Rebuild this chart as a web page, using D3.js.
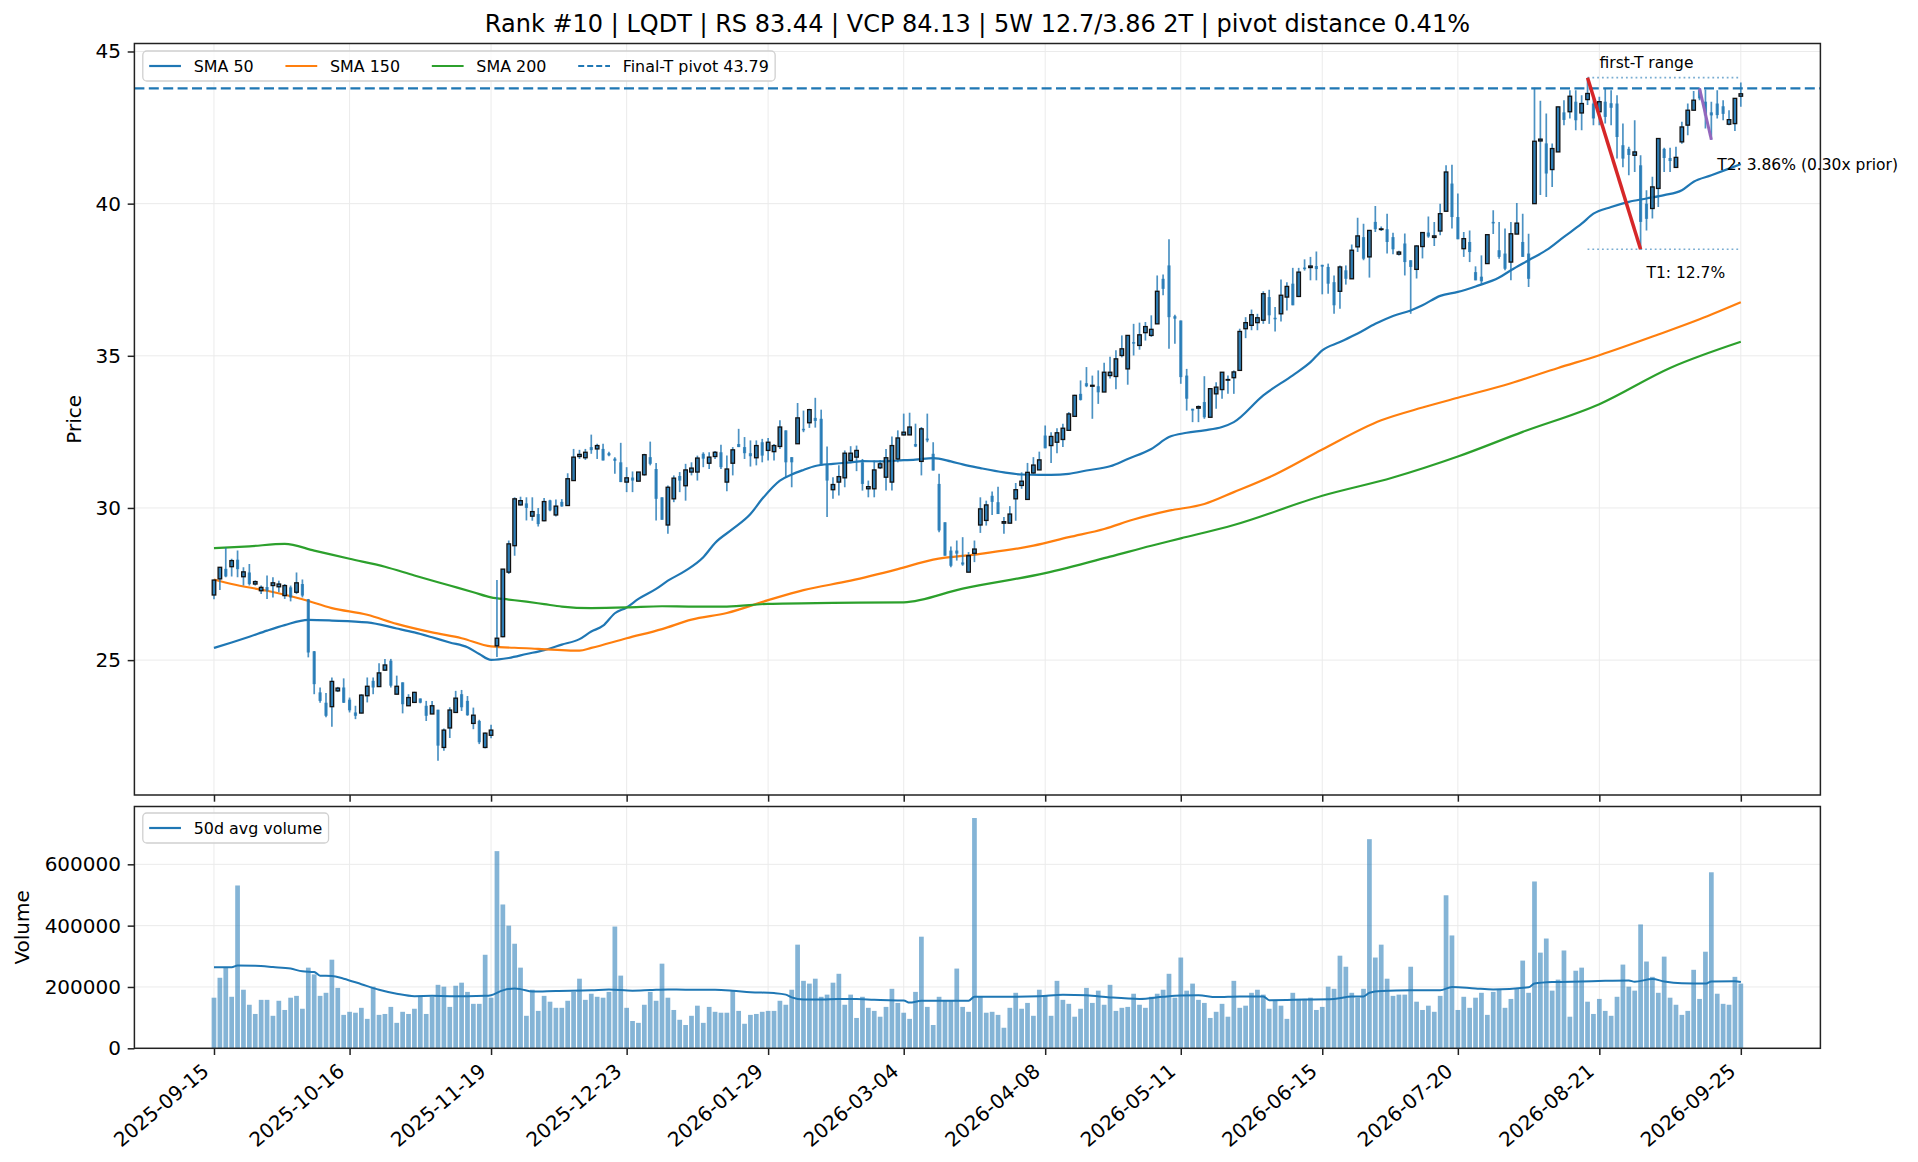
<!DOCTYPE html>
<html>
<head>
<meta charset="utf-8">
<script src="https://cdn.jsdelivr.net/npm/d3@7"></script>
<style>
  body { margin: 0; background: #fff; }
  text { font-family: "DejaVu Sans", sans-serif; fill: #000; }
</style>
</head>
<body>
<div id="chart"></div>
<script>
// x axis: trading-day index, labelled at a few dates
const tickIdx = [0, 23, 47, 70, 94, 117, 141, 164, 188, 211, 235, 259];
const tickLabels = ["2025-09-15", "2025-10-16", "2025-11-19", "2025-12-23", "2026-01-29", "2026-03-04",
  "2026-04-08", "2026-05-11", "2026-06-15", "2026-07-20", "2026-08-21", "2026-09-25"];

const open = [
  27.14,27.67,28.00,28.07,28.30,27.74,27.88,27.50,27.28,27.40,
  27.45,27.41,27.12,27.39,27.23,27.50,27.00,25.29,23.94,23.60,
  23.47,23.99,24.10,23.70,23.28,23.26,23.83,24.32,24.13,24.67,
  24.98,23.88,24.27,23.50,23.61,23.74,23.50,23.23,23.37,22.13,
  22.77,23.28,23.88,23.66,22.92,23.00,22.13,22.53,25.47,25.77,
  27.89,28.76,30.10,30.15,29.73,29.80,29.58,30.25,29.77,30.20,
  30.08,30.90,31.69,31.65,32.00,31.94,31.94,31.80,31.62,31.50,
  30.85,31.00,30.88,31.09,31.67,31.28,30.35,29.44,30.30,31.05,
  30.73,31.18,31.18,31.78,31.47,31.69,31.83,30.85,31.47,32.10,
  32.00,31.80,31.65,32.16,31.89,31.85,32.02,32.55,31.67,32.11,
  32.60,32.80,32.96,32.93,31.45,30.60,30.85,30.99,31.56,31.67,
  31.50,30.63,30.63,31.32,31.01,30.85,31.61,32.40,32.40,32.10,
  31.53,32.28,31.78,30.79,29.53,28.60,28.60,28.21,27.89,28.51,
  29.44,29.59,30.40,30.19,29.50,29.50,30.30,30.74,30.28,31.15,
  31.25,32.38,32.05,32.16,32.25,32.55,33.01,33.75,34.10,34.00,
  34.00,33.81,34.35,34.32,35.01,34.57,35.45,35.34,35.76,35.67,
  36.05,37.53,37.97,36.30,36.16,34.35,33.26,33.28,33.48,32.98,
  33.75,33.89,34.20,34.28,34.52,35.89,36.00,36.09,36.17,36.93,
  36.25,36.38,36.93,37.37,36.95,37.90,37.90,37.95,37.99,37.92,
  37.42,37.12,37.81,37.53,38.58,38.90,38.25,39.40,39.15,39.16,
  38.90,38.34,38.69,38.14,37.84,38.59,39.05,38.89,39.10,39.75,
  40.66,39.56,38.52,38.74,37.75,37.60,38.03,39.40,38.47,38.36,
  38.08,39.00,38.74,38.36,40.00,42.06,41.98,41.12,41.70,43.00,
  43.02,43.35,42.98,43.42,43.29,43.02,43.35,43.30,43.29,41.92,
  41.80,41.59,41.26,40.00,39.84,40.50,41.80,41.50,41.19,42.03,
  42.58,43.07,43.73,43.35,43.00,43.29,43.20,42.61,42.63,43.53];

const high = [
  27.65,28.05,28.69,28.33,28.60,28.05,28.16,27.62,27.45,27.78,
  27.72,27.61,27.50,27.45,27.88,27.65,27.01,25.30,24.10,23.92,
  24.43,24.12,24.40,23.77,23.50,23.88,24.43,24.43,24.90,25.04,
  25.04,24.49,24.27,23.88,23.96,23.74,23.66,23.66,23.37,22.75,
  23.45,23.99,24.02,23.82,23.44,23.04,22.62,22.88,27.63,27.99,
  28.93,30.35,30.37,30.35,30.35,30.00,30.33,30.27,30.28,30.29,
  31.14,31.94,31.91,31.94,32.41,32.11,32.11,31.85,31.67,32.14,
  31.34,31.20,31.18,31.78,32.18,31.48,30.35,30.74,31.07,31.18,
  31.45,31.50,31.72,31.83,31.83,31.87,32.08,31.72,32.00,32.60,
  32.33,32.22,32.22,32.27,32.30,32.10,32.88,32.55,31.67,33.45,
  33.20,33.26,33.62,33.23,32.02,31.01,31.40,31.89,32.03,32.05,
  31.61,30.90,31.56,31.58,31.94,32.35,32.55,33.10,33.13,32.77,
  32.66,33.10,32.16,31.12,29.53,28.73,28.93,29.04,28.55,28.93,
  30.35,30.24,30.54,30.70,29.70,30.06,30.82,31.17,31.48,31.67,
  31.85,32.71,32.49,32.62,32.77,33.15,33.72,34.19,34.63,34.35,
  34.52,34.77,34.97,35.18,35.67,35.67,36.05,36.09,36.11,36.33,
  37.64,37.67,38.83,36.35,36.16,34.57,33.26,33.37,34.33,33.92,
  34.13,34.46,34.35,34.52,35.89,36.27,36.52,36.38,37.12,37.17,
  36.60,37.51,37.42,37.89,37.89,38.17,38.25,38.43,37.99,38.03,
  37.64,37.97,37.97,38.66,39.54,39.34,39.12,39.92,39.25,39.67,
  39.04,38.45,39.02,38.14,38.63,39.05,39.58,39.40,40.00,41.26,
  41.28,40.33,39.07,39.12,37.94,38.30,38.98,39.78,39.40,39.18,
  39.40,40.02,39.67,39.01,43.81,43.38,42.96,41.98,43.18,43.40,
  43.73,43.73,43.56,44.14,43.51,43.51,43.78,43.73,43.56,42.63,
  41.87,42.74,41.59,40.44,40.88,42.14,41.84,41.84,41.87,42.69,
  43.29,43.70,43.79,43.75,43.35,43.73,43.40,43.07,43.46,43.98];

const low = [
  27.00,27.30,27.72,27.75,27.72,27.45,27.45,27.45,27.17,27.01,
  27.06,27.23,27.01,26.93,27.17,27.06,25.09,23.88,23.60,23.12,
  22.81,23.95,23.59,23.28,23.06,23.25,23.61,23.88,24.13,24.65,
  24.10,23.88,23.25,23.50,23.61,23.58,23.00,23.23,21.69,22.02,
  22.44,23.28,23.33,23.17,22.73,22.24,22.10,22.43,25.10,25.75,
  27.83,28.43,30.08,29.59,29.58,29.39,29.56,29.89,29.72,30.04,
  30.08,30.90,31.61,31.58,31.78,31.61,31.56,31.70,31.12,30.85,
  30.52,30.52,30.88,31.06,31.40,29.59,29.61,29.15,30.19,30.52,
  30.24,31.07,30.90,31.34,31.28,31.61,31.28,30.55,31.07,32.00,
  31.61,31.36,31.40,31.50,31.56,31.56,31.94,31.01,30.68,32.11,
  32.49,32.63,32.64,31.40,29.70,30.30,30.41,30.68,31.47,31.21,
  30.57,30.35,30.35,31.28,30.57,30.57,31.50,32.38,32.40,32.00,
  31.07,32.16,31.23,29.20,28.43,28.05,28.27,28.10,27.89,28.22,
  29.18,29.42,29.77,29.80,29.15,29.50,29.58,30.63,30.28,31.12,
  31.25,31.96,31.48,31.80,32.00,32.55,33.01,33.53,33.97,32.93,
  33.42,33.81,34.25,33.90,34.95,34.05,35.01,35.20,35.50,35.62,
  36.05,36.99,35.23,35.40,34.08,33.20,32.82,32.82,32.93,32.98,
  33.26,33.59,33.75,33.75,34.52,35.58,35.84,35.84,36.05,36.05,
  35.80,36.13,36.49,36.66,36.93,37.80,37.48,37.48,37.02,37.04,
  36.38,36.55,37.34,37.53,38.41,38.14,37.57,39.07,39.10,38.36,
  38.34,38.30,37.64,36.38,37.54,38.20,38.88,38.61,38.96,39.75,
  39.18,38.83,38.25,38.08,37.48,37.34,38.03,39.00,38.19,37.81,
  37.48,39.00,38.25,37.26,40.00,40.28,40.22,40.55,41.70,42.58,
  42.80,42.41,42.41,43.24,42.58,42.58,42.63,42.58,41.48,41.20,
  40.93,41.04,38.50,39.12,39.51,39.89,41.04,41.04,41.19,41.97,
  42.25,43.07,43.40,42.47,42.10,42.80,42.74,42.58,42.39,43.18];

const close = [
  27.63,28.05,27.75,28.27,27.99,27.90,27.50,27.58,27.39,27.28,
  27.54,27.50,27.45,27.06,27.54,27.12,25.25,24.21,23.66,23.17,
  24.30,24.08,23.60,23.35,23.17,23.85,24.14,24.10,24.58,24.84,
  24.16,24.14,23.55,23.77,23.94,23.60,23.17,23.50,22.19,22.70,
  23.36,23.75,23.45,23.19,23.19,22.30,22.60,22.70,25.72,27.99,
  28.82,30.30,30.24,30.00,29.88,29.47,30.21,29.92,30.06,30.05,
  30.96,31.67,31.76,31.83,31.90,32.05,31.56,31.73,31.55,30.85,
  30.99,30.90,31.18,31.75,31.45,30.30,29.61,30.68,30.98,30.90,
  31.25,31.31,31.64,31.62,31.67,31.83,31.34,31.28,31.91,32.00,
  31.80,31.70,32.05,31.72,32.16,32.05,32.66,31.50,31.50,32.96,
  32.55,33.23,32.86,31.40,30.90,30.77,31.03,31.80,31.80,31.89,
  30.79,30.70,31.25,31.45,31.65,32.05,32.30,32.49,32.66,32.02,
  32.60,32.22,31.23,29.26,28.43,28.10,28.50,28.14,28.43,28.65,
  29.97,30.10,30.20,29.80,29.55,29.80,30.60,30.88,31.17,31.41,
  31.58,31.96,32.35,32.47,32.62,33.09,33.70,33.55,34.00,34.03,
  33.80,34.46,34.46,34.90,35.23,35.67,35.40,35.69,35.96,35.87,
  37.12,37.20,36.27,36.22,34.30,33.59,33.20,33.33,32.98,33.92,
  33.97,34.46,34.22,34.47,35.80,36.09,36.35,36.25,37.04,36.33,
  36.20,36.99,37.28,36.66,37.75,37.85,37.95,37.85,37.93,37.37,
  36.66,37.92,37.53,38.47,38.94,38.19,39.12,39.16,39.17,38.74,
  38.50,38.41,38.08,37.92,38.61,39.05,38.92,38.94,39.67,41.04,
  39.56,38.83,38.85,38.41,37.48,37.45,38.98,39.35,38.25,37.86,
  39.01,39.36,38.25,37.53,42.05,42.12,40.99,41.81,43.18,42.75,
  43.53,42.74,43.29,43.62,42.80,43.35,42.85,43.15,42.19,41.48,
  41.60,41.70,39.40,39.50,40.55,42.14,41.50,41.40,41.52,42.52,
  43.07,43.40,43.46,42.90,42.90,42.91,42.95,42.76,43.46,43.61];

// daily volume, thousands of shares
const volumeK = [
  165,230,262,168,531,191,142,112,158,158,
  106,155,125,165,171,129,263,241,171,181,
  289,197,109,119,116,132,96,201,109,112,
  135,83,119,112,129,171,112,168,207,201,
  135,204,214,184,145,145,305,165,643,469,
  400,341,263,106,191,122,171,152,132,132,
  155,184,227,158,178,168,165,184,397,237,
  132,89,83,142,184,155,276,165,125,93,
  76,106,139,83,135,119,116,116,188,122,
  80,109,112,119,122,122,155,142,191,338,
  220,211,227,168,175,214,243,142,175,99,
  168,132,122,103,135,194,148,116,96,184,
  364,135,76,168,155,155,260,135,119,751,
  168,116,119,109,67,132,181,129,148,106,
  191,171,106,220,158,145,103,129,197,148,
  188,142,207,122,132,135,178,142,132,168,
  178,191,243,165,296,188,211,158,148,99,
  119,145,103,220,132,139,181,191,175,129,
  155,139,96,181,161,161,165,125,135,201,
  194,302,266,181,165,194,682,296,338,227,
  171,175,175,266,152,125,139,119,171,499,
  368,125,168,132,165,181,109,184,191,132,
  161,194,286,181,544,312,358,188,224,319,
  103,253,263,152,112,161,122,106,168,273,
  201,188,404,283,233,181,299,165,142,109,
  122,256,161,315,574,178,145,142,233,211];

// moving averages: [day index, value]
const sma50 = [[0,25.40],[3,25.58],[6,25.77],[9,25.97],[12,26.15],[16,26.32],[20,26.30],[26,26.24],[31,26.04],
  [34,25.91],[37,25.75],[40,25.58],[43,25.42],[45,25.20],[47,25.01],[50,25.07],[53,25.20],[56,25.33],[59,25.51],
  [62,25.69],[64,25.94],[66,26.13],[68,26.54],[70,26.73],[72,27.01],[75,27.34],[77,27.61],[80,27.94],[83,28.38],
  [85,28.85],[88,29.31],[91,29.80],[93,30.30],[96,30.90],[98,31.10],[100,31.25],[102,31.38],[105,31.45],[108,31.50],
  [110,31.54],[113,31.53],[116,31.56],[119,31.59],[122,31.64],[125,31.53],[127,31.43],[130,31.31],[134,31.17],
  [137,31.10],[140,31.09],[142,31.09],[145,31.12],[148,31.23],[152,31.37],[155,31.61],[159,31.94],[162,32.33],
  [165,32.47],[168,32.55],[171,32.66],[173,32.82],[178,33.70],[183,34.36],[186,34.79],[188,35.18],[191,35.45],
  [194,35.73],[197,36.05],[200,36.31],[203,36.49],[205,36.66],[208,36.97],[211,37.10],[214,37.28],[218,37.57],
  [220,37.81],[223,38.14],[226,38.47],[229,38.91],[232,39.34],[234,39.67],[237,39.89],[240,40.06],[243,40.17],
  [246,40.28],[249,40.44],[251,40.72],[254,40.93],[257,41.15],[259,41.30]];
const sma150 = [[0,27.65],[3,27.50],[9,27.28],[15,27.00],[20,26.71],[26,26.49],[31,26.19],[37,25.91],[42,25.72],
  [47,25.45],[53,25.39],[59,25.33],[62,25.31],[64,25.40],[70,25.72],[76,26.02],[81,26.33],[87,26.55],[94,26.97],
  [100,27.30],[108,27.61],[116,27.99],[122,28.30],[130,28.49],[139,28.76],[145,29.04],[151,29.31],[156,29.62],
  [162,29.91],[168,30.13],[173,30.52],[180,31.10],[188,31.92],[198,32.88],[205,33.30],[211,33.62],[220,34.10],
  [228,34.60],[235,35.02],[245,35.70],[252,36.20],[259,36.76]];
const sma200 = [[0,28.68],[6,28.74],[12,28.82],[17,28.60],[23,28.33],[29,28.07],[34,27.78],[40,27.45],[44,27.23],
  [47,27.06],[50,26.99],[53,26.92],[56,26.84],[59,26.76],[64,26.71],[70,26.73],[76,26.77],[81,26.76],[87,26.76],
  [94,26.85],[105,26.88],[117,26.90],[127,27.35],[141,27.86],[152,28.40],[159,28.76],[164,29.00],[173,29.44],
  [188,30.40],[200,31.00],[211,31.69],[222,32.50],[235,33.41],[247,34.60],[259,35.46]];
const volAvgK = [[0,264],[3,264],[4,270],[7,269],[10,265],[13,260],[15,251],[17,249],[18,237],[20,236],[22,227],
  [25,209],[28,191],[31,178],[34,170],[37,171],[40,170],[43,170],[46,171],[47,173],[49,189],[51,195],[52,193],
  [54,185],[58,187],[64,189],[67,192],[71,188],[74,190],[77,192],[80,191],[85,191],[88,188],[91,183],[95,180],
  [97,175],[98,166],[100,159],[103,159],[106,161],[109,161],[112,158],[117,156],[118,149],[120,155],[125,155],
  [128,155],[129,168],[134,168],[140,170],[144,175],[148,173],[152,166],[157,161],[161,168],[164,172],[167,173],
  [170,167],[174,169],[178,169],[179,157],[185,159],[190,161],[193,169],[195,169],[196,181],[198,187],[203,189],
  [208,189],[210,200],[214,195],[217,192],[223,199],[224,211],[227,216],[232,218],[236,220],[240,221],[241,217],
  [244,226],[246,218],[249,212],[253,211],[254,218],[258,219],[259,216]];

// VCP contraction markers
const pivot = 43.79;
const t1 = {hiIdx: 233, hi: 44.14, loIdx: 242, lo: 38.50, label: "T1: 12.7%"};
const t2 = {hiIdx: 252, hi: 43.79, loIdx: 254, lo: 42.10, label: "T2: 3.86% (0.30x prior)"};
const title = "Rank #10 | LQDT | RS 83.44 | VCP 84.13 | 5W 12.7/3.86 2T | pivot distance 0.41%";

// ---------------------------------------------------------------------
const W = 1918, H = 1162;
const left = 134.4, right = 1820.4;
const pTop = 43.5, pBot = 795, vTop = 806.5, vBot = 1048.3;
const blue = "#1f77b4", candle = "rgba(31,119,180,0.8)";
const tickFont = 20, legendFont = 15.9, tickLen = 6.7;

const svg = d3.select("#chart").append("svg")
  .attr("width", W).attr("height", H)
  .style("background", "#fff");

const x = d3.scaleLinear().domain([-13.5, 272.5]).range([left, right]);
const lo = d3.min(low), hi = d3.max(high), pad = (hi - lo) * 0.05;
const y = d3.scaleLinear().domain([lo - pad, hi + pad]).range([pBot, pTop]);
const vol = volumeK.map(v => v * 1000);
const yv = d3.scaleLinear().domain([0, d3.max(vol) * 1.05]).range([vBot, vTop]);
const bw = x(1) - x(0);

svg.append("defs").append("clipPath").attr("id", "clipP")
  .append("rect").attr("x", left).attr("y", pTop).attr("width", right - left).attr("height", pBot - pTop);
svg.append("defs").append("clipPath").attr("id", "clipV")
  .append("rect").attr("x", left).attr("y", vTop).attr("width", right - left).attr("height", vBot - vTop);

// grid
function grid(g, yScale, yTicks, top, bot) {
  g.selectAll(".gx").data(tickIdx).enter().append("line")
    .attr("x1", d => x(d)).attr("x2", d => x(d)).attr("y1", top).attr("y2", bot)
    .attr("stroke", "#ebebeb").attr("stroke-width", 1);
  g.selectAll(".gy").data(yTicks).enter().append("line")
    .attr("x1", left).attr("x2", right).attr("y1", d => yScale(d)).attr("y2", d => yScale(d))
    .attr("stroke", "#ebebeb").attr("stroke-width", 1);
}
const priceTicks = [25, 30, 35, 40, 45];
const volTicks = [0, 200000, 400000, 600000];
grid(svg.append("g"), y, priceTicks, pTop, pBot);
grid(svg.append("g"), yv, volTicks, vTop, vBot);

// ---- price panel
const gp = svg.append("g").attr("clip-path", "url(#clipP)");
const line = d3.line().x(d => x(d[0])).y(d => y(d[1])).curve(d3.curveMonotoneX);
gp.append("path").datum(sma50).attr("d", line).attr("fill", "none").attr("stroke", blue).attr("stroke-width", 2.2);
gp.append("path").datum(sma150).attr("d", line).attr("fill", "none").attr("stroke", "#ff7f0e").attr("stroke-width", 2.2);
gp.append("path").datum(sma200).attr("d", line).attr("fill", "none").attr("stroke", "#2ca02c").attr("stroke-width", 2.2);

const idx = d3.range(open.length);
gp.selectAll(".wick").data(idx).enter().append("line")
  .attr("x1", i => x(i)).attr("x2", i => x(i))
  .attr("y1", i => y(high[i])).attr("y2", i => y(low[i]))
  .attr("stroke", candle).attr("stroke-width", 1.7);
gp.selectAll(".down").data(idx.filter(i => close[i] < open[i])).enter().append("rect")
  .attr("x", i => x(i) - 1.6).attr("width", 3.2)
  .attr("y", i => y(open[i])).attr("height", i => Math.max(y(close[i]) - y(open[i]), 1))
  .attr("fill", candle);
gp.selectAll(".up").data(idx.filter(i => close[i] >= open[i])).enter().append("rect")
  .attr("x", i => x(i) - 0.6 * bw / 2).attr("width", 0.6 * bw)
  .attr("y", i => y(close[i])).attr("height", i => Math.max(y(open[i]) - y(close[i]), 0.3))
  .attr("fill", candle).attr("stroke", "#111").attr("stroke-width", 1.3);

// pivot line
gp.append("line").attr("x1", left).attr("x2", right).attr("y1", y(pivot)).attr("y2", y(pivot))
  .attr("stroke", blue).attr("stroke-width", 2.2).attr("stroke-dasharray", "10,4.4");

// first-T range
[t1.hi, t1.lo].forEach(v => {
  gp.append("line").attr("x1", x(t1.hiIdx)).attr("x2", x(open.length - 1))
    .attr("y1", y(v)).attr("y2", y(v))
    .attr("stroke", "rgba(31,119,180,0.6)").attr("stroke-width", 1.6).attr("stroke-dasharray", "1.8,3");
});
gp.append("line").attr("x1", x(t1.hiIdx)).attr("y1", y(t1.hi)).attr("x2", x(t1.loIdx)).attr("y2", y(t1.lo))
  .attr("stroke", "#d62728").attr("stroke-width", 3.5);
gp.append("line").attr("x1", x(t2.hiIdx)).attr("y1", y(t2.hi)).attr("x2", x(t2.loIdx)).attr("y2", y(t2.lo))
  .attr("stroke", "#9467bd").attr("stroke-width", 3);

svg.append("text").attr("x", x(t1.loIdx + 1)).attr("y", y(t1.hi) - 10)
  .attr("text-anchor", "middle").style("font-size", "15.5px").text("first-T range");
svg.append("text").attr("x", x(t1.loIdx + 1)).attr("y", y(t1.lo * 0.98))
  .attr("dominant-baseline", "central").style("font-size", "15.5px").text(t1.label);
svg.append("text").attr("x", x(t2.loIdx + 1)).attr("y", y(t2.lo * 0.98))
  .attr("dominant-baseline", "central").style("font-size", "15.5px").text(t2.label);

// ---- volume panel
const gv = svg.append("g").attr("clip-path", "url(#clipV)");
gv.selectAll(".vb").data(idx).enter().append("rect")
  .attr("x", i => x(i) - 0.4 * bw).attr("width", 0.8 * bw)
  .attr("y", i => yv(vol[i])).attr("height", i => vBot - yv(vol[i]))
  .attr("fill", "rgba(31,119,180,0.55)");
gv.append("path").datum(volAvgK)
  .attr("d", d3.line().x(d => x(d[0])).y(d => yv(d[1] * 1000)).curve(d3.curveMonotoneX))
  .attr("fill", "none").attr("stroke", blue).attr("stroke-width", 2);

// ---- axes and frames
function frame(top, bot) {
  svg.append("rect").attr("x", left).attr("y", top).attr("width", right - left).attr("height", bot - top)
    .attr("fill", "none").attr("stroke", "#222").attr("stroke-width", 1.5);
}
function styleAxis(g) {
  g.select(".domain").remove();
  g.selectAll(".tick line").attr("stroke", "#222").attr("stroke-width", 1.5);
  g.selectAll(".tick text").style("font-size", tickFont + "px").attr("fill", "#000")
    .style("font-family", "DejaVu Sans, sans-serif");
}
svg.append("g").attr("transform", `translate(${left},0)`)
  .call(d3.axisLeft(y).tickValues(priceTicks).tickSize(tickLen).tickPadding(tickLen)).call(styleAxis);
svg.append("g").attr("transform", `translate(${left},0)`)
  .call(d3.axisLeft(yv).tickValues(volTicks).tickFormat(d3.format("d")).tickSize(tickLen).tickPadding(tickLen)).call(styleAxis);
svg.append("g").attr("transform", `translate(0,${pBot})`)
  .call(d3.axisBottom(x).tickValues(tickIdx).tickFormat("").tickSize(tickLen)).call(styleAxis);
const xa = svg.append("g").attr("transform", `translate(0,${vBot})`)
  .call(d3.axisBottom(x).tickValues(tickIdx).tickFormat((d, i) => tickLabels[i]).tickSize(tickLen)).call(styleAxis);
xa.selectAll(".tick text")
  .attr("text-anchor", "end").attr("dy", null).attr("y", null)
  .attr("dominant-baseline", "hanging")
  .attr("transform", `translate(-14,${2 * tickLen}) rotate(-40)`);
frame(pTop, pBot);
frame(vTop, vBot);

svg.append("text").attr("x", (left + right) / 2).attr("y", 32).attr("text-anchor", "middle")
  .style("font-size", "24px").text(title);
svg.append("text").attr("transform", `translate(74,${(pTop + pBot) / 2}) rotate(-90)`)
  .attr("text-anchor", "middle").attr("dominant-baseline", "central").style("font-size", tickFont + "px").text("Price");
svg.append("text").attr("transform", `translate(22,${(vTop + vBot) / 2}) rotate(-90)`)
  .attr("text-anchor", "middle").attr("dominant-baseline", "central").style("font-size", tickFont + "px").text("Volume");

// ---- legends (matplotlib-like spacing in font units)
function legend(items, x0, y0) {
  const g = svg.append("g");
  const box = g.append("rect").attr("x", x0).attr("y", y0).attr("rx", 4)
    .attr("fill", "rgba(255,255,255,0.8)").attr("stroke", "#d0d0d0").attr("stroke-width", 1.3);
  const em = legendFont, cy = y0 + 15;
  let cx = x0 + 0.4 * em;
  items.forEach((it, k) => {
    g.append("line").attr("x1", cx).attr("x2", cx + 2 * em).attr("y1", cy).attr("y2", cy)
      .attr("stroke", it.color).attr("stroke-width", 2.2).attr("stroke-dasharray", it.dash || null);
    const t = g.append("text").attr("x", cx + 2.8 * em).attr("y", cy).attr("dominant-baseline", "central")
      .style("font-size", legendFont + "px").text(it.label);
    cx += 2.8 * em + t.node().getComputedTextLength();
    if (k < items.length - 1) cx += 2 * em;
  });
  box.attr("width", cx + 0.4 * em - x0).attr("height", 30);
}
legend([
  {label: "SMA 50", color: blue},
  {label: "SMA 150", color: "#ff7f0e"},
  {label: "SMA 200", color: "#2ca02c"},
  {label: "Final-T pivot " + pivot.toFixed(2), color: blue, dash: "6,3"}
], 142.8, 51);
legend([{label: "50d avg volume", color: blue}], 142.8, 813);
</script>
</body>
</html>
